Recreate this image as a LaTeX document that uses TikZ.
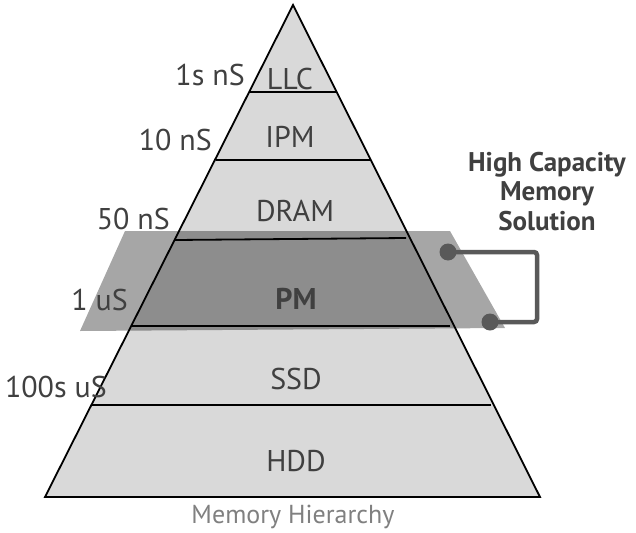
\documentclass[tikz,border=0pt]{standalone}
\usepackage{fontspec}
\setmainfont{PT Sans}
\begin{document}
\begin{tikzpicture}[x=1pt,y=-1pt,
  lbl/.style={font=\fontsize{30}{34}\selectfont, text=black!75, inner sep=0pt, anchor=base},
  lat/.style={lbl, anchor=base east},
  sep/.style={draw=black, line width=1.8pt},
  conn/.style={draw=black!65, line width=4.5pt, rounded corners=3pt},
  dotc/.style={circle, fill=black!65, minimum size=17pt, inner sep=0pt}]
\useasboundingbox (0,0) rectangle (636,532);
% pyramid
\coordinate (apex) at (293,5);
\coordinate (bl) at (45,497);
\coordinate (br) at (540,497);
\fill[black!15] (apex) -- (br) -- (bl) -- cycle;
% separators
\draw[sep] (250,92) -- (336,92);
\draw[sep] (216,160) -- (371,160);
\draw[sep] (175,240) -- (406,238);
\draw[sep] (132,326) -- (450,326);
\draw[sep] (92,405) -- (491,405);
\draw[black, line width=1.8pt, line join=miter] (apex) -- (br) -- (bl) -- cycle;
% overlay trapezoid
\fill[black, opacity=0.35] (125,231) -- (450,231) -- (505,328) -- (80,331) -- cycle;
% connector
\node[dotc] (d1) at (448,252) {};
\node[dotc] (d2) at (490,322) {};
\draw[conn] (d1.center) -- (537,252) -- (537,322) -- (d2.center);
% tier labels
\node[lbl] (llc) at (290,90) {LLC};
\node[lbl] (ipm) at (290,147) {IPM};
\node[lbl] (dram) at (295,221) {DRAM};
\node[lbl, font=\fontsize{30}{34}\selectfont\bfseries] (pm) at (296,309) {PM};
\node[lbl] (ssd) at (296,389) {SSD};
\node[lbl] (hdd) at (296,471) {HDD};
% latency labels
\node[lat] (t1) at (245,85) {1s nS};
\node[lat] (t2) at (212,150) {10 nS};
\node[lat] (t3) at (170,229) {50 nS};
\node[lat] (t4) at (128,310) {1 uS};
\node[lat] (t5) at (107,397) {100s uS};
% side text
\node[lbl, font=\fontsize{27}{29.5}\selectfont\bfseries, align=center, anchor=north] (hc) at (547,152) {High Capacity\\Memory\\Solution};
% caption
\node[lbl, font=\fontsize{26}{28}\selectfont, text=black!50] (cap) at (293,523) {Memory Hierarchy};
\end{tikzpicture}
\end{document}
